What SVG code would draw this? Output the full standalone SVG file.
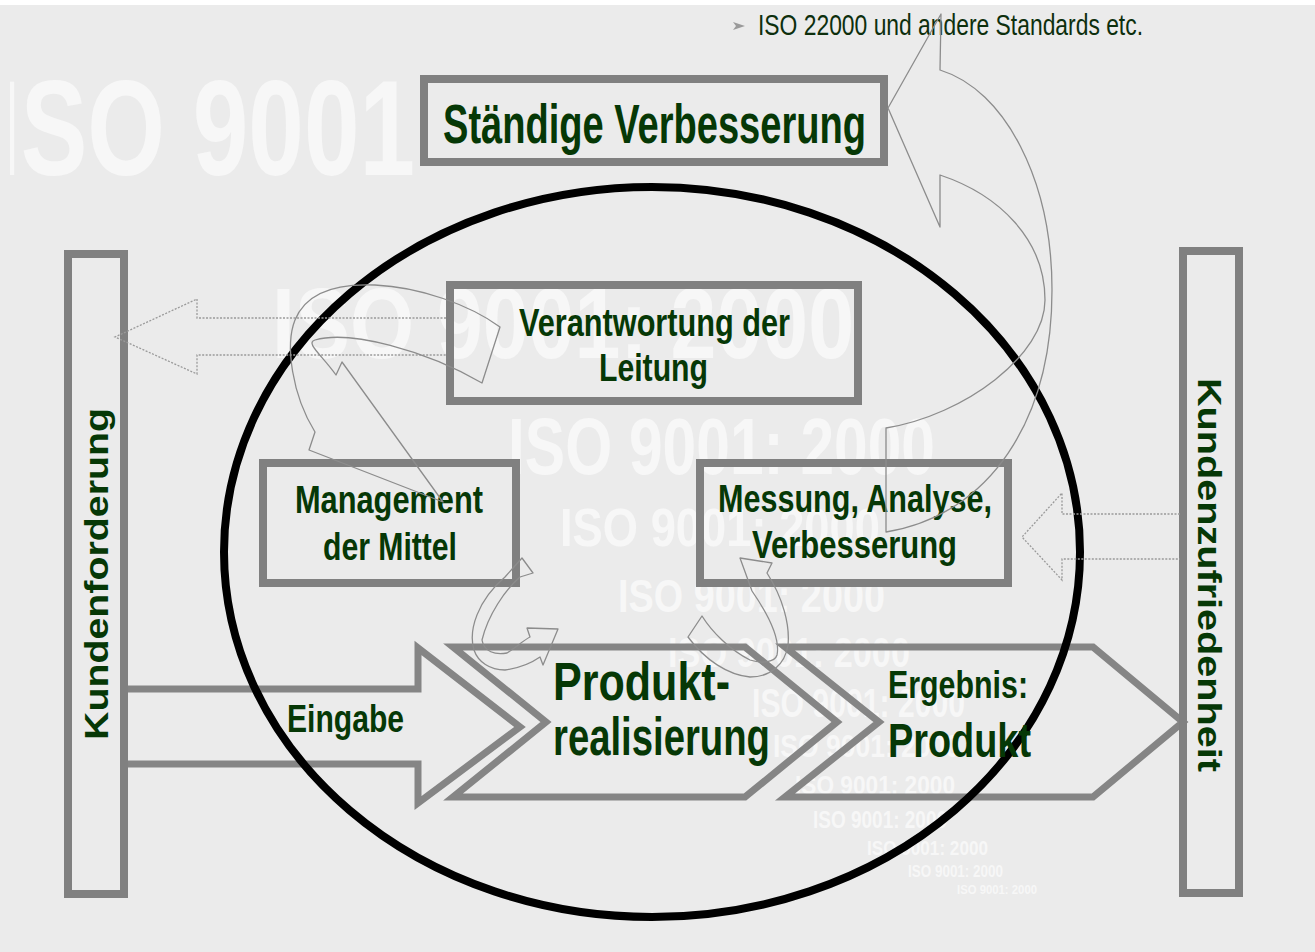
<svg xmlns="http://www.w3.org/2000/svg" width="1315" height="952" viewBox="0 0 1315 952">
  <defs>
    <style>
      .bg { fill: #ebebeb; }
      .wm { fill: #f7f7f7; font-family: "Liberation Sans", Arial, sans-serif; font-weight: bold; }
      .box { fill: none; stroke: #808080; stroke-width: 8; }
      .block { fill: none; stroke: #858585; stroke-width: 7; stroke-linejoin: miter; }
      .label { fill: #063806; font-family: "Liberation Sans", Arial, sans-serif; font-weight: bold; }
      .note { fill: #0d2f0d; font-family: "Liberation Sans", Arial, sans-serif; }
      .curve { fill: none; stroke: #8c8c8c; stroke-width: 1.3; stroke-linejoin: round; }
      .dotted { fill: none; stroke: #9a9a9a; stroke-width: 1.3; stroke-dasharray: 2 1.5; }
    </style>
    <clipPath id="leftClip">
      <rect x="10" y="0" width="1305" height="952"/>
    </clipPath>
  </defs>

  <!-- page -->
  <rect class="bg" x="0" y="0" width="1315" height="952"/>
  <rect x="0" y="0" width="1315" height="5" fill="#ffffff"/>

  <!-- background watermarks -->
  <g id="watermarks">
    <text class="wm" x="-7" y="175" font-size="136" textLength="422" lengthAdjust="spacingAndGlyphs" clip-path="url(#leftClip)">ISO 9001</text>
    <text class="wm" x="272" y="358" font-size="100" textLength="582" lengthAdjust="spacingAndGlyphs">ISO 9001: 2000</text>
    <text class="wm" x="508" y="474" font-size="80" textLength="427" lengthAdjust="spacingAndGlyphs">ISO 9001: 2000</text>
    <text class="wm" x="560" y="546" font-size="54" textLength="320" lengthAdjust="spacingAndGlyphs">ISO 9001: 2000</text>
    <text class="wm" x="618" y="612" font-size="46" textLength="267" lengthAdjust="spacingAndGlyphs">ISO 9001: 2000</text>
    <text class="wm" x="668" y="667" font-size="42" textLength="242" lengthAdjust="spacingAndGlyphs">ISO 9001: 2000</text>
    <text class="wm" x="752" y="717" font-size="40" textLength="213" lengthAdjust="spacingAndGlyphs">ISO 9001: 2000</text>
    <text class="wm" x="773" y="757" font-size="32" textLength="187" lengthAdjust="spacingAndGlyphs">ISO 9001: 2000</text>
    <text class="wm" x="795" y="794" font-size="26" textLength="160" lengthAdjust="spacingAndGlyphs">ISO 9001: 2000</text>
    <text class="wm" x="813" y="828" font-size="24" textLength="134" lengthAdjust="spacingAndGlyphs">ISO 9001: 2000</text>
    <text class="wm" x="867" y="855" font-size="20" textLength="121" lengthAdjust="spacingAndGlyphs">ISO 9001: 2000</text>
    <text class="wm" x="908" y="877" font-size="16" textLength="95" lengthAdjust="spacingAndGlyphs">ISO 9001: 2000</text>
    <text class="wm" x="957" y="894" font-size="13" textLength="80" lengthAdjust="spacingAndGlyphs">ISO 9001: 2000</text>
  </g>

  <!-- top note -->
  <g id="note">
    <polygon points="733,22 745,26 733,30 736,26" fill="#9a9a9a"/>
    <text class="note" x="758" y="35" font-size="30" textLength="385" lengthAdjust="spacingAndGlyphs">ISO 22000 und andere Standards etc.</text>
  </g>

  <!-- process chain -->
  <g id="eingabe">
    <polygon class="block" points="124,689 418,689 418,648 520,727 418,803 418,764 124,764"/>
    <text class="label" x="287" y="732" font-size="38" textLength="117" lengthAdjust="spacingAndGlyphs">Eingabe</text>
  </g>
  <g id="produktrealisierung">
    <polygon class="block" points="453,647 745,647 837,722 745,797 453,797 546,722"/>
  </g>
  <g id="ergebnis">
    <polygon class="block" points="785,647 1093,647 1183,722 1093,797 785,797 879,722"/>
  </g>

  <!-- system boundary -->
  <ellipse cx="652" cy="552" rx="428" ry="365" fill="none" stroke="#000" stroke-width="8"/>

  <g id="kundenforderung">
    <rect class="box" x="68" y="254" width="56" height="640"/>
    <text class="label" font-size="44" text-anchor="middle" textLength="332" lengthAdjust="spacingAndGlyphs" transform="translate(108,574) rotate(-90) scale(1,0.75)">Kundenforderung</text>
  </g>
  <g id="kundenzufriedenheit">
    <rect class="box" x="1183" y="251" width="56" height="642"/>
    <text class="label" font-size="44" text-anchor="middle" textLength="394" lengthAdjust="spacingAndGlyphs" transform="translate(1198,575) rotate(90) scale(1,0.75)">Kundenzufriedenheit</text>
  </g>

  <g id="staendige-verbesserung">
    <rect class="box" x="424" y="79" width="460" height="83"/>
    <text class="label" x="443" y="143" font-size="55" textLength="423" lengthAdjust="spacingAndGlyphs">Ständige Verbesserung</text>
  </g>
  <g id="verantwortung">
    <rect class="box" x="450" y="285" width="408" height="116"/>
    <text class="label" x="519" y="336" font-size="38" textLength="271" lengthAdjust="spacingAndGlyphs">Verantwortung der</text>
    <text class="label" x="599" y="381" font-size="38" textLength="109" lengthAdjust="spacingAndGlyphs">Leitung</text>
  </g>
  <g id="management">
    <rect class="box" x="263" y="463" width="253" height="120"/>
    <text class="label" x="295" y="513" font-size="39" textLength="188" lengthAdjust="spacingAndGlyphs">Management</text>
    <text class="label" x="323" y="560" font-size="39" textLength="134" lengthAdjust="spacingAndGlyphs">der Mittel</text>
  </g>
  <g id="messung">
    <rect class="box" x="700" y="463" width="308" height="120"/>
    <text class="label" x="718" y="512" font-size="39" textLength="274" lengthAdjust="spacingAndGlyphs">Messung, Analyse,</text>
    <text class="label" x="752" y="558" font-size="39" textLength="205" lengthAdjust="spacingAndGlyphs">Verbesserung</text>
  </g>

  <!-- connectors -->
  <g id="connectors">
    <!-- feedback to customer requirement -->
    <path class="dotted" d="M446,318 L197,318 L197,299 L115,337 L197,374 L197,355 L446,355"/>
    <!-- customer satisfaction feedback -->
    <path class="dotted" d="M1180,514 L1062,514 L1062,493 L1022,537 L1062,580 L1062,559 L1180,559"/>
    <!-- improvement loop -->
    <path class="curve" d="M888,108 L941,14 L940,70 C1005,90 1052,180 1052,290 C1052,420 990,515 886,532 L886,428 C965,415 1045,355 1045,300 C1045,240 1000,195 940,175 L940,227 Z"/>
    <!-- management responsibility to resources -->
    <path class="curve" d="M500,327 C470,305 420,287 375,285 C330,283 305,295 295,320 C285,345 292,395 315,432 L309,450 L443,502 L342,362 L336,375 C322,355 305,343 315,340 C350,330 425,350 482,383 Z"/>
    <!-- resources to realisation -->
    <path class="curve" d="M513,568 L522,558 L533,573 L520,577 C505,590 488,615 482,640 C484,652 495,655 507,653 C515,648 524,640 530,637 L527,628 L558,629 L543,665 L540,657 C530,664 520,668 505,670 C490,670 478,662 474,650 C468,630 478,600 505,577 Z"/>
    <!-- realisation to measurement -->
    <path class="curve" d="M702,616 C712,632 730,650 750,660 C762,664 775,662 777,655 C780,640 772,620 752,591 L740,558 L772,563 L767,573 C783,598 790,625 788,645 C785,665 770,677 750,677 C728,675 705,660 688,637 Z"/>
  </g>

  <!-- chain labels -->
  <g id="chain-labels">
    <text class="label" x="553" y="700" font-size="53" textLength="177" lengthAdjust="spacingAndGlyphs">Produkt-</text>
    <text class="label" x="553" y="755" font-size="53" textLength="217" lengthAdjust="spacingAndGlyphs">realisierung</text>
    <text class="label" x="888" y="698" font-size="39" textLength="140" lengthAdjust="spacingAndGlyphs">Ergebnis:</text>
    <text class="label" x="888" y="757" font-size="49" textLength="143" lengthAdjust="spacingAndGlyphs">Produkt</text>
  </g>
</svg>
